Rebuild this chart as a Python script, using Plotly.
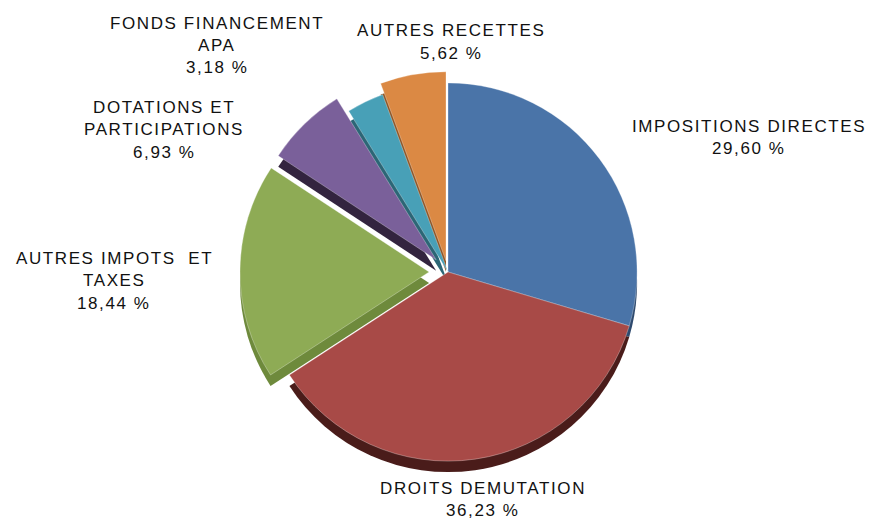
import plotly.graph_objects as go

labels = ["IMPOSITIONS DIRECTES", "DROITS DEMUTATION", "AUTRES IMPOTS  ET TAXES",
          "DOTATIONS ET PARTICIPATIONS", "FONDS FINANCEMENT APA", "AUTRES RECETTES"]
label_lines = [["IMPOSITIONS DIRECTES"], ["DROITS DEMUTATION"], ["AUTRES IMPOTS  ET", "TAXES"],
               ["DOTATIONS ET", "PARTICIPATIONS"], ["FONDS FINANCEMENT", "APA"], ["AUTRES RECETTES"]]
values = [29.60, 36.23, 18.44, 6.93, 3.18, 5.62]
pct_text = ["29,60 %", "36,23 %", "18,44 %", "6,93 %", "3,18 %", "5,62 %"]
pulls = [0, 0, 0.1, 0.09, 0, 0.06]
colors = ["#4A74A8", "#A84A47", "#8EAB55", "#7A609A", "#48A0B7", "#DB8944"]
side_colors = ["#2E4A6E", "#4A1C1A", "#6E8A3C", "#33243F", "#2C6676", "#8E5424"]

# label anchor: (center x, first line y) in pixels from top-left
label_pos = [(748, 126), (482, 488), (113, 258), (163, 107), (216, 23), (450, 31)]
line_gap = 22.5

W, H = 875, 521
cx, cy = 448, 272
half = 208
depth = 11

def dom(cxp, cyp):
    return dict(x=[(cxp - half) / W, (cxp + half) / W],
                y=[(H - cyp - half) / H, (H - cyp + half) / H])

fig = go.Figure()
fig.add_trace(go.Pie(values=values, labels=labels, sort=False, direction="clockwise",
                     rotation=0, pull=pulls, marker=dict(colors=side_colors, line=dict(width=0)),
                     textinfo="none", hoverinfo="skip", showlegend=False,
                     domain=dom(cx, cy + depth)))
fig.add_trace(go.Pie(values=values, labels=labels, sort=False, direction="clockwise",
                     rotation=0, pull=pulls,
                     marker=dict(colors=colors, line=dict(width=0.5, color="rgba(255,255,255,0.6)")),
                     textinfo="none", showlegend=False,
                     domain=dom(cx, cy)))

for lines, pt, (px, py) in zip(label_lines, pct_text, label_pos):
    for i, ln in enumerate(lines + [pt]):
        fig.add_annotation(x=(px + 1) / W, y=1 - (py + i * line_gap) / H,
                           xref="paper", yref="paper",
                           text='<span style="letter-spacing:1.6px">' + ln + '</span>',
                           showarrow=False, align="center", borderpad=0,
                           xanchor="center", yanchor="middle",
                           font=dict(family="Liberation Sans, Arial", size=17, color="#111"))

fig.update_layout(width=W, height=H, margin=dict(l=0, r=0, t=0, b=0),
                  paper_bgcolor="white", plot_bgcolor="white")
fig.write_html("out.html")
